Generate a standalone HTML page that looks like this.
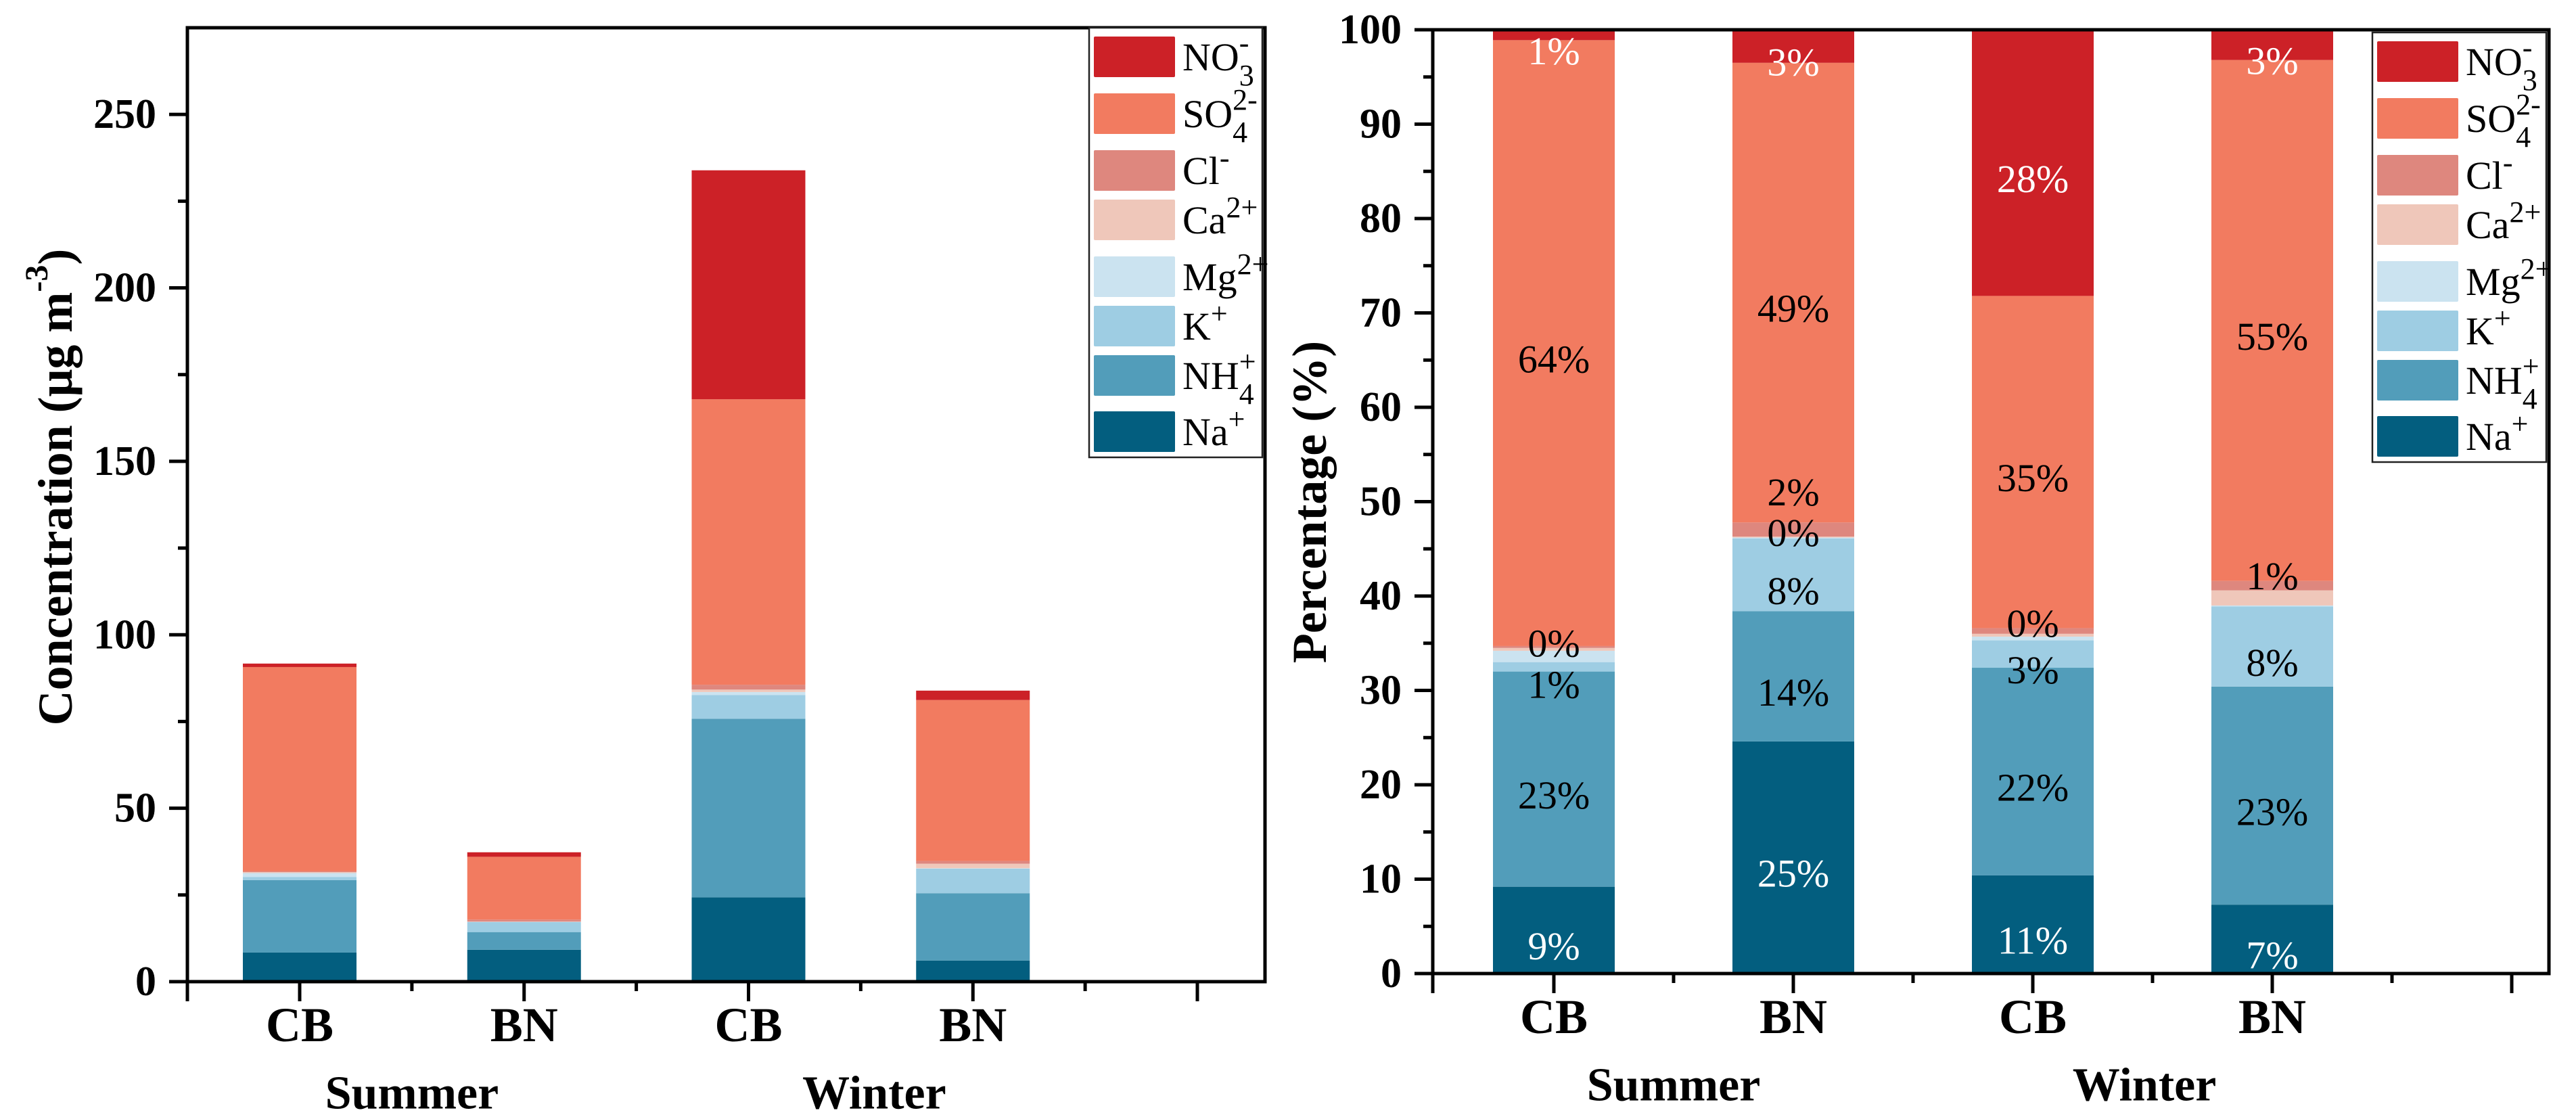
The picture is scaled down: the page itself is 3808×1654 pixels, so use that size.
<!DOCTYPE html>
<html><head><meta charset="utf-8">
<style>
html,body{margin:0;padding:0;background:#fff;}
svg{display:block;font-family:"Liberation Serif","DejaVu Serif",serif;}
text{font-family:"Liberation Serif","DejaVu Serif",serif;}
</style></head>
<body>
<svg id="fig" width="3808" height="1654" viewBox="0 0 3808 1654" xmlns="http://www.w3.org/2000/svg"></svg>
<script>
// ---- data ----
const categories = ["CB","BN","CB","BN"];
const seasons = ["Summer","Winter"];
const species = ["Na","NH4","K","Mg","Ca","Cl","SO4","NO3"];
// concentration (ug m-3), per bar, per species bottom->top
const naConc  = [8.4, 9.2, 24.3, 6.1];
const nh4Conc = [20.9, 5.1, 51.5, 19.4];
const kConc   = [0.9, 2.9, 6.8, 7.1];
const mgConc  = [1.1, 0.05, 0.9, 0.1];
const caConc  = [0.3, 0.05, 0.7, 1.3];
const clConc  = [0.2, 0.6, 1.4, 0.8];
const so4Conc = [58.9, 18.1, 82.3, 46.4];
const no3Conc = [1.0, 1.3, 66.0, 2.7];
// percentages
const naPct  = [9.2, 24.6, 10.4, 7.3];
const nh4Pct = [22.8, 13.8, 22.0, 23.1];
const kPct   = [1.0, 7.7, 2.9, 8.5];
const mgPct  = [1.2, 0.1, 0.4, 0.1];
const caPct  = [0.3, 0.1, 0.3, 1.6];
const clPct  = [0.2, 1.5, 0.6, 1.0];
const so4Pct = [64.2, 48.7, 35.2, 55.2];
const no3Pct = [1.1, 3.5, 28.2, 3.2];
// printed labels (species index -> text) per bar
const pctLabels = [
  {0:"9%",1:"23%",2:"1%",4:"0%",6:"64%",7:"1%"},
  {0:"25%",1:"14%",2:"8%",3:"0%",5:"2%",6:"49%",7:"3%"},
  {0:"11%",1:"22%",2:"3%",5:"0%",6:"35%",7:"28%"},
  {0:"7%",1:"23%",2:"8%",5:"1%",6:"55%",7:"3%"}
];
const concTicks = [0,50,100,150,200,250];
const pctTicks = [0,10,20,30,40,50,60,70,80,90,100];

const colors = ["#035E7F","#529DBA","#9ECDE3","#CBE3F0","#EFC7BA","#DE877E","#F27B60","#CC2127"];
const concSeries = [naConc,nh4Conc,kConc,mgConc,caConc,clConc,so4Conc,no3Conc];
const pctSeries = [naPct,nh4Pct,kPct,mgPct,caPct,clPct,so4Pct,no3Pct];

const NS="http://www.w3.org/2000/svg";
const svg=document.getElementById('fig');
function el(tag,attrs,parent,text){const e=document.createElementNS(NS,tag);for(const k in attrs)e.setAttribute(k,attrs[k]);if(text!==undefined)e.textContent=text;(parent||svg).appendChild(e);return e;}

function drawPanel(cfg){
  const g=el('g',{});
  
  
  const xs=p=>cfg.x1+(p-1)*cfg.step;
  const ys=v=>cfg.bottom-(v-cfg.ymin)/(cfg.ymax-cfg.ymin)*(cfg.bottom-cfg.top);
  const bw=cfg.bw;
  const pending=[];
  for(let b=0;b<categories.length;b++){
    let cum=0;
    let lastSmallY=null;
    for(let s=0;s<species.length;s++){
      const v=cfg.series[s][b];
      const y0=ys(cum), y1=ys(cum+v);
      const r=el('rect',{x:xs(b+1)-bw/2,y:y1,width:bw,height:Math.max(0,y0-y1),fill:colors[s]},g);
      
      
      if(cfg.labels && cfg.labels[b][s]!==undefined){
        let c;
        if(s===7) c=Math.min(cum+v/2-1.7,98.6);
        else if(v<2.5 && s!==2){
          c=cum+v+0.5;
          if(lastSmallY!==null && c<lastSmallY+4) c=lastSmallY+4.3;
          lastSmallY=c;
        }
        else if(v<2.5) c=cum+v/2-1.9;
        else c=cum+v/2-1.7;
        pending.push({x:xs(b+1),y:ys(c),txt:cfg.labels[b][s],white:(s===0||s===7)});
      }
      cum+=v;
    }
  }
  for(const p of pending){
    const t=el('text',{x:p.x,y:p.y,'text-anchor':'middle','dominant-baseline':'central','font-size':58,fill:p.white?'#fff':'#000'},g,p.txt);
    
    
  }
  const fr=el('rect',{x:cfg.left,y:cfg.top,width:cfg.right-cfg.left,height:cfg.bottom-cfg.top,fill:'none',stroke:'#000','stroke-width':5},g);
  
  
  for(let i=0;i<cfg.ticks.length;i++){
    const v=cfg.ticks[i],y=ys(v);
    el('line',{x1:cfg.left-27,x2:cfg.left,y1:y,y2:y,stroke:'#000','stroke-width':5},g);
    const t=el('text',{x:cfg.left-46,y:y,'text-anchor':'end','dominant-baseline':'central','font-size':62,'font-weight':'bold'},g,String(v));
    
    
    if(i<cfg.ticks.length-1){
      const ym=ys(v+(cfg.ticks[1]-cfg.ticks[0])/2);
      el('line',{x1:cfg.left-14,x2:cfg.left,y1:ym,y2:ym,stroke:'#000','stroke-width':5},g);
    }
  }
  for(let k=1;k<=9;k++){
    const p=0.5+k*0.5, x=xs(p);
    const major=(k%2===1);
    el('line',{x1:x,x2:x,y1:cfg.bottom,y2:cfg.bottom+(major?29:14),stroke:'#000','stroke-width':5},g);
  }
  el('line',{x1:cfg.left,x2:cfg.left,y1:cfg.bottom,y2:cfg.bottom+29,stroke:'#000','stroke-width':5},g);
  for(let b=0;b<categories.length;b++){
    const t=el('text',{x:xs(b+1),y:cfg.bottom+64,'text-anchor':'middle','dominant-baseline':'central','font-size':72,'font-weight':'bold'},g,categories[b]);
    
    
  }
  for(let s=0;s<seasons.length;s++){
    const t=el('text',{x:xs(1.5+2*s)+(s?cfg.winterShift:0),y:cfg.bottom+165,'text-anchor':'middle','dominant-baseline':'central','font-size':70,'font-weight':'bold'},g,seasons[s]);
    
    
  }
  const tt=el('text',{x:cfg.titleX,y:cfg.titleY,'text-anchor':'middle','dominant-baseline':'central','font-size':72,'font-weight':'bold',transform:`rotate(-90 ${cfg.titleX} ${cfg.titleY})`},g);
  
  
  tt.innerHTML=cfg.title;
  const lg=el('g',{},g);
  
  
  el('rect',{x:cfg.lgX,y:cfg.lgY,width:cfg.right-cfg.lgX-4,height:635,fill:'#fff',stroke:'#222','stroke-width':2.5},lg);
  const tops=[13,97,181,254,338,411,484,567];
  const names=[
    'NO<tspan dy="22" font-size="44">3</tspan><tspan dx="-22" dy="-48" font-size="44">-</tspan>',
    'SO<tspan dy="22" font-size="44">4</tspan><tspan dx="-22" dy="-48" font-size="44">2-</tspan>',
    'Cl<tspan dy="-24" font-size="44">-</tspan>',
    'Ca<tspan dy="-24" font-size="44">2+</tspan>',
    'Mg<tspan dy="-24" font-size="44">2+</tspan>',
    'K<tspan dy="-24" font-size="44">+</tspan>',
    'NH<tspan dy="22" font-size="44">4</tspan><tspan dx="-22" dy="-48" font-size="44">+</tspan>',
    'Na<tspan dy="-24" font-size="44">+</tspan>'];
  for(let i=0;i<8;i++){
    const s=7-i;
    const e=el('g',{},lg);
    
    
    el('rect',{x:cfg.lgX+7,y:cfg.lgY+tops[i],width:120,height:60,fill:colors[s],rx:2},e);
    const t=el('text',{x:cfg.lgX+138,y:cfg.lgY+tops[i]+50,'font-size':58},e);
    t.innerHTML=names[i];
  }
}

drawPanel({name:'concentration-chart',series:concSeries,labels:null,ticks:concTicks,ymin:0,ymax:275,
  left:277,right:1870,top:41,bottom:1451,x1:443,step:331.75,bw:168,winterShift:20,
  titleX:82,titleY:720,title:'Concentration (μg m<tspan dy="-28" font-size="48">-3</tspan><tspan dy="28">)</tspan>',
  lgX:1610,lgY:41});
drawPanel({name:'percentage-chart',series:pctSeries,labels:pctLabels,ticks:pctTicks,ymin:0,ymax:100,
  left:2118,right:3768,top:44,bottom:1439,x1:2297,step:354,bw:180,winterShift:-12,
  titleX:1936,titleY:742,title:'Percentage (%)',
  lgX:3507,lgY:48});
</script>
</body></html>
